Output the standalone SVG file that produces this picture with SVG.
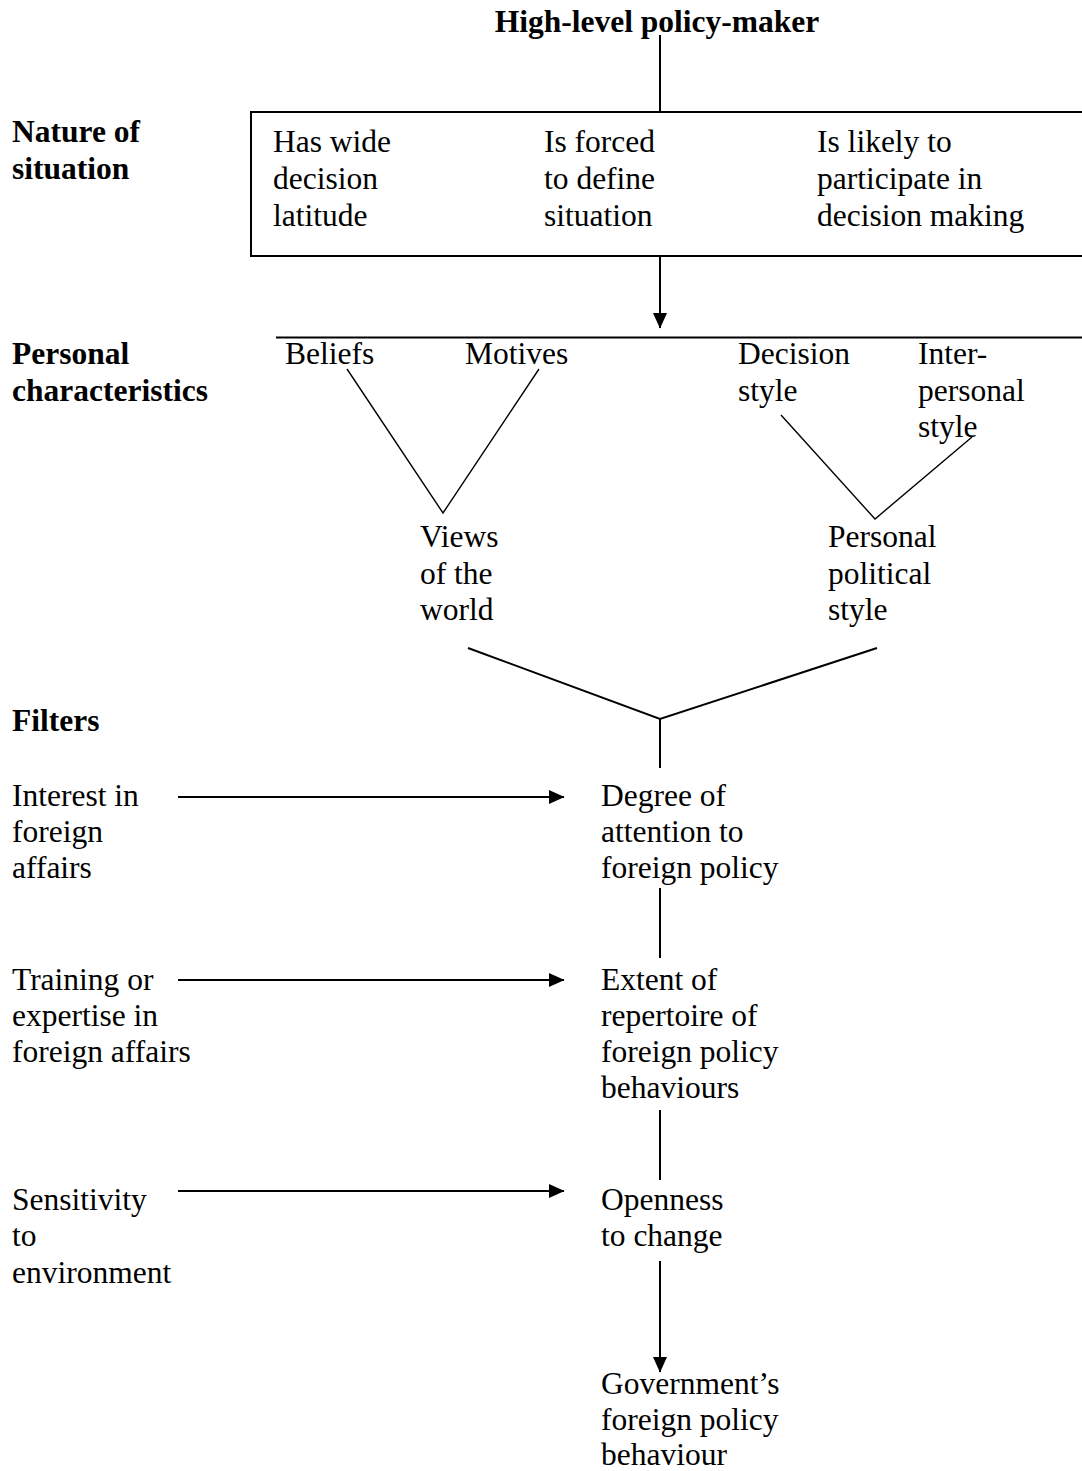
<svg xmlns="http://www.w3.org/2000/svg" width="1082" height="1471" viewBox="0 0 1082 1471">
<style>
text{font-family:"Liberation Serif","Times New Roman",serif;font-size:31.5px;fill:#000}
.b{font-weight:bold}
.ln{stroke:#000;stroke-width:2;fill:none}
.th{stroke:#000;stroke-width:1.4;fill:none}
</style>
<defs>
<marker id="ah" markerWidth="16" markerHeight="16" refX="15" refY="7.5" orient="auto" markerUnits="userSpaceOnUse">
<path d="M0,0.5 L15.5,7.5 L0,14.5 Z" fill="#000"/>
</marker>
</defs>
<rect width="1082" height="1471" fill="#fff"/>
<g id="title"><text class="b" x="657" y="32" text-anchor="middle">High-level policy-maker</text></g>
<g id="labels">
<text class="b" x="12" y="142">Nature of</text>
<text class="b" x="12" y="179">situation</text>
<text class="b" x="12" y="364">Personal</text>
<text class="b" x="12" y="401">characteristics</text>
<text class="b" x="12" y="731">Filters</text>
</g>
<g id="situation">
<rect class="ln" x="251" y="112" width="840" height="144"/>
<text x="273" y="152">Has wide</text><text x="273" y="189">decision</text><text x="273" y="226">latitude</text>
<text x="544" y="152">Is forced</text><text x="544" y="189">to define</text><text x="544" y="226">situation</text>
<text x="817" y="152">Is likely to</text><text x="817" y="189">participate in</text><text x="817" y="226">decision making</text>
</g>
<g id="personal">
<text x="285" y="364">Beliefs</text>
<text x="465" y="364">Motives</text>
<text x="738" y="364">Decision</text><text x="738" y="401">style</text>
<text x="918" y="364">Inter-</text><text x="918" y="401">personal</text><text x="918" y="437">style</text>
</g>
<g id="views"><text x="420" y="547">Views</text><text x="420" y="584">of the</text><text x="420" y="620">world</text></g>
<g id="political"><text x="828" y="547">Personal</text><text x="828" y="584">political</text><text x="828" y="620">style</text></g>
<g id="attention"><text x="601" y="806">Degree of</text><text x="601" y="842">attention to</text><text x="601" y="878">foreign policy</text></g>
<g id="repertoire"><text x="601" y="990">Extent of</text><text x="601" y="1026">repertoire of</text><text x="601" y="1062">foreign policy</text><text x="601" y="1098">behaviours</text></g>
<g id="openness"><text x="601" y="1210">Openness</text><text x="601" y="1246">to change</text></g>
<g id="behaviour"><text x="601" y="1394">Government’s</text><text x="601" y="1430">foreign policy</text><text x="601" y="1465">behaviour</text></g>
<g id="interest"><text x="12" y="806">Interest in</text><text x="12" y="842">foreign</text><text x="12" y="878">affairs</text></g>
<g id="training"><text x="12" y="990">Training or</text><text x="12" y="1026">expertise in</text><text x="12" y="1062">foreign affairs</text></g>
<g id="sensitivity"><text x="12" y="1210">Sensitivity</text><text x="12" y="1246">to</text><text x="12" y="1283">environment</text></g>
<g id="connectors">
<line class="ln" x1="660" y1="35" x2="660" y2="112"/>
<line class="ln" x1="660" y1="256" x2="660" y2="328" marker-end="url(#ah)"/>
<line class="ln" x1="276" y1="337.5" x2="1082" y2="337.5"/>
<polyline class="th" points="347,369 443,513 539,369"/>
<polyline class="th" points="781,415 875,519 972,437"/>
<polyline class="ln" points="468,648 660,719 877,648"/>
<line class="ln" x1="660" y1="719" x2="660" y2="768"/>
<line class="ln" x1="660" y1="888" x2="660" y2="958"/>
<line class="ln" x1="660" y1="1110" x2="660" y2="1180"/>
<line class="ln" x1="660" y1="1261" x2="660" y2="1372" marker-end="url(#ah)"/>
<line class="ln" x1="178" y1="797" x2="564" y2="797" marker-end="url(#ah)"/>
<line class="ln" x1="178" y1="980" x2="564" y2="980" marker-end="url(#ah)"/>
<line class="ln" x1="178" y1="1191" x2="564" y2="1191" marker-end="url(#ah)"/>
</g>
</svg>
